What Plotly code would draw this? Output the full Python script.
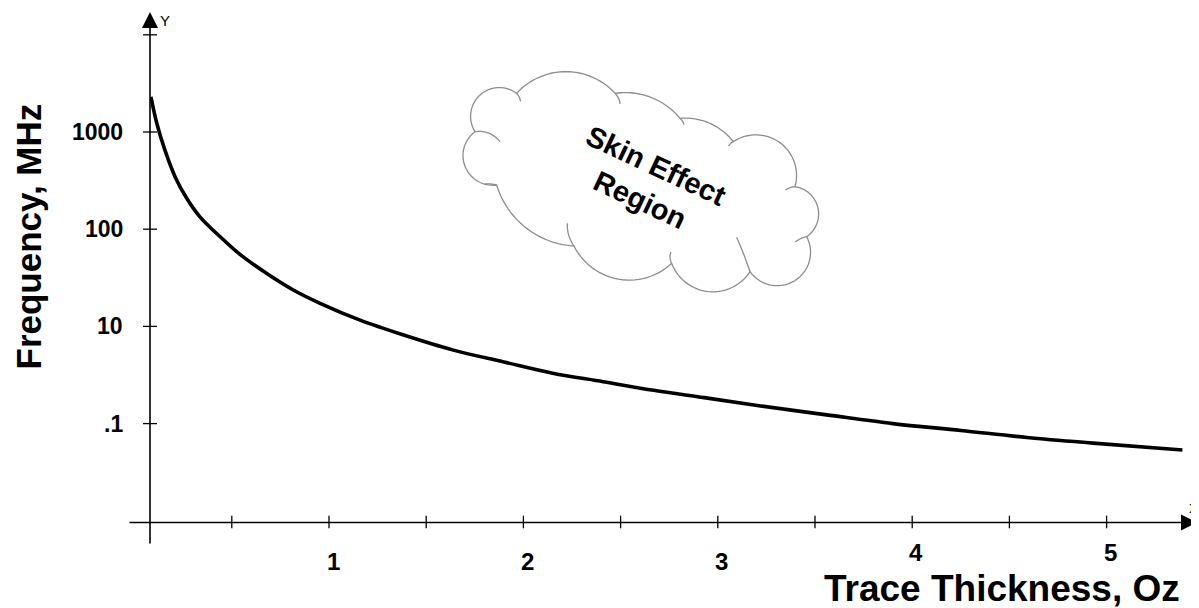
import math
import plotly.graph_objects as go

# ---------------- data ----------------
thickness_oz = [0.084, 0.114, 0.156, 0.208, 0.268, 0.336, 0.439, 0.542, 0.68, 0.816,
                0.954, 1.16, 1.38, 1.64, 1.90, 2.15, 2.41, 2.67, 2.93, 3.22,
                3.56, 3.90, 4.25, 4.59, 4.93, 5.39]
frequency_mhz = [2300, 1230, 650, 347, 208, 134, 84, 55, 35, 23.7,
                 17.3, 11.6, 8.2, 5.7, 4.3, 3.3, 2.7, 2.2, 1.85, 1.52,
                 1.23, 1.0, 0.85, 0.72, 0.63, 0.535]

x_tick_vals = [0.5, 1.0, 1.5, 2.0, 2.5, 3.0, 3.5, 4.0, 4.5, 5.0]
x_label_vals = [1, 2, 3, 4, 5]
x_label_text = ["1", "2", "3", "4", "5"]
y_tick_vals = [1, 10, 100, 1000, 10000]
y_label_vals = [1, 10, 100, 1000]
y_label_text = [".1", "10", "100", "1000"]

# ---------------- layout geometry ----------------
OFF = 8  # page body margin
W, H = 1199 - OFF, 608 - OFF
ML, MR, MT, MB = 150 - OFF, 14, 12 - OFF, 86
PW, PH = W - ML - MR, H - MT - MB
X_RANGE = [0.0792, 5.4033]
Y_RANGE = [-1.0123, 4.2346]  # log10
FONT = "Liberation Sans, Arial, sans-serif"


def px_to_paper(px, py):
    fx, fy = px - OFF, py - OFF
    return (fx - ML) / PW, (H - MB - fy) / PH


fig = go.Figure()

# main curve
fig.add_trace(go.Scatter(
    x=thickness_oz, y=frequency_mhz, mode="lines",
    line=dict(color="black", width=3.6, shape="spline", smoothing=1.0),
    hoverinfo="skip", showlegend=False))

# crossing tick marks
fig.add_trace(go.Scatter(
    x=x_tick_vals, y=[10 ** Y_RANGE[0]] * len(x_tick_vals), mode="markers",
    marker=dict(symbol="line-ns", size=9, line=dict(color="black", width=1.3)),
    cliponaxis=False, hoverinfo="skip", showlegend=False))
fig.add_trace(go.Scatter(
    x=[X_RANGE[0]] * len(y_tick_vals), y=y_tick_vals, mode="markers",
    marker=dict(symbol="line-ew", size=10, line=dict(color="black", width=1.3)),
    cliponaxis=False, hoverinfo="skip", showlegend=False))

annotations = []
# axis lines with arrow heads
xt, yt = px_to_paper(1197, 522.5)
annotations.append(dict(x=xt, y=yt, xref="paper", yref="paper", text="",
                        showarrow=True, ax=-(1197 - 128), ay=0, arrowhead=2,
                        arrowsize=2.0, arrowwidth=1.6, arrowcolor="black", standoff=0))
xt, yt = px_to_paper(150, 12)
annotations.append(dict(x=xt, y=yt, xref="paper", yref="paper", text="",
                        showarrow=True, ax=0, ay=545 - 12, arrowhead=2,
                        arrowsize=2.0, arrowwidth=1.6, arrowcolor="black", standoff=0))


def text_ann(px, py, text, size, bold=False, angle=0, xanchor="center"):
    xa, ya = px_to_paper(px, py)
    f = dict(family=FONT, size=size, color="black")
    if bold:
        f["weight"] = "bold"
    return dict(x=xa, y=ya, xref="paper", yref="paper", text=text, showarrow=False,
                xanchor=xanchor, yanchor="middle", textangle=angle, font=f)


# axis letters
annotations.append(text_ann(165, 20, "Y", 15))
annotations.append(text_ann(1193, 508, "X", 13))

# x tick labels
for v, t in zip(x_label_vals, x_label_text):
    py = 561 if v <= 3 else 552
    _, yp = px_to_paper(0, py)
    annotations.append(dict(x=v, y=yp, xref="x", yref="paper", text=t, showarrow=False,
                            xanchor="center", yanchor="middle", xshift=4,
                            font=dict(family=FONT, size=24, color="black", weight="bold")))
# y tick labels
xl, _ = px_to_paper(125, 0)
for v, t in zip(y_label_vals, y_label_text):
    annotations.append(dict(x=xl, y=math.log10(v), xref="paper", yref="y", text=t,
                            showarrow=False, xanchor="right", yanchor="middle",
                            font=dict(family=FONT, size=23, color="black", weight="bold")))

# axis titles
annotations.append(text_ann(28, 236.5, "Frequency, MHz", 35, bold=True, angle=-90))
annotations.append(text_ann(1002, 588, "Trace Thickness, Oz", 37, bold=True))

# cloud text
annotations.append(text_ann(648, 183, "Skin Effect<br>Region", 29, bold=True, angle=25))


# ---------------- cloud outline (decoration) ----------------
def z2px(p):
    return 450 + p[0] / 3.0, 60 + p[1] / 3.0


def arc3(p0, pm, p1, n=28):
    ax_, ay_ = p0
    bx, by = pm
    cx, cy = p1
    d = 2 * (ax_ * (by - cy) + bx * (cy - ay_) + cx * (ay_ - by))
    ux = ((ax_**2 + ay_**2) * (by - cy) + (bx**2 + by**2) * (cy - ay_) + (cx**2 + cy**2) * (ay_ - by)) / d
    uy = ((ax_**2 + ay_**2) * (cx - bx) + (bx**2 + by**2) * (ax_ - cx) + (cx**2 + cy**2) * (bx - ax_)) / d
    r = math.hypot(ax_ - ux, ay_ - uy)
    a0 = math.atan2(ay_ - uy, ax_ - ux)
    am = math.atan2(by - uy, bx - ux)
    a1 = math.atan2(cy - uy, cx - ux)
    two = 2 * math.pi
    dl = (a1 - a0) % two
    dm = (am - a0) % two
    if dm > dl:
        dl = dl - two
    return [(ux + r * math.cos(a0 + dl * i / n), uy + r * math.sin(a0 + dl * i / n)) for i in range(n + 1)]


bumps = [
    ((75, 215), (85, 110), (200, 100)),
    ((200, 100), (340, 35), (495, 100)),
    ((495, 100), (610, 115), (690, 175)),
    ((690, 175), (790, 195), (850, 245)),
    ((850, 245), (1020, 280), (1035, 380)),
    ((1035, 380), (1105, 450), (1070, 530)),
    ((1070, 530), (1050, 650), (900, 635)),
    ((900, 635), (800, 695), (665, 610)),
    ((665, 610), (550, 660), (372, 558)),
    ((372, 558), (230, 505), (140, 375)),
    ((140, 375), (40, 300), (75, 215)),
]
curls = [
    ((75, 215), (112, 218), (150, 245)),
    ((200, 100), (207, 110), (212, 124)),
    ((495, 100), (505, 113), (510, 132)),
    ((690, 175), (697, 183), (702, 194)),
    ((850, 245), (842, 250), (836, 258)),
    ((1035, 380), (1020, 383), (1006, 390)),
    ((1070, 530), (1052, 536), (1036, 546)),
    ((900, 635), (878, 575), (860, 532)),
    ((665, 610), (660, 592), (663, 576)),
    ((372, 558), (356, 525), (352, 490)),
    ((140, 375), (122, 372), (104, 372)),
]


def path_from(pts, close=False):
    s = ""
    for i, (px, py) in enumerate(pts):
        xp, yp = px_to_paper(px, py)
        s += ("M" if i == 0 else "L") + f"{xp:.5f},{yp:.5f} "
    if close:
        s += "Z"
    return s


outline = []
for b in bumps:
    seg = arc3(*[z2px(p) for p in b])
    outline.extend(seg if not outline else seg[1:])

shapes = [dict(type="path", xref="paper", yref="paper", path=path_from(outline, True),
               line=dict(color="#8c8c8c", width=1.3), fillcolor="white", layer="below")]
for c in curls:
    seg = arc3(*[z2px(p) for p in c], n=10)
    shapes.append(dict(type="path", xref="paper", yref="paper", path=path_from(seg),
                       line=dict(color="#8c8c8c", width=1.3), layer="below"))

fig.update_layout(
    width=W, height=H,
    margin=dict(l=ML, r=MR, t=MT, b=MB, pad=0),
    paper_bgcolor="white", plot_bgcolor="rgba(0,0,0,0)",
    showlegend=False,
    xaxis=dict(range=X_RANGE, showgrid=False, zeroline=False, showline=False,
               showticklabels=False, ticks=""),
    yaxis=dict(type="log", range=Y_RANGE, showgrid=False, zeroline=False, showline=False,
               showticklabels=False, ticks=""),
    annotations=annotations,
    shapes=shapes,
)

fig.write_html("out.html")
